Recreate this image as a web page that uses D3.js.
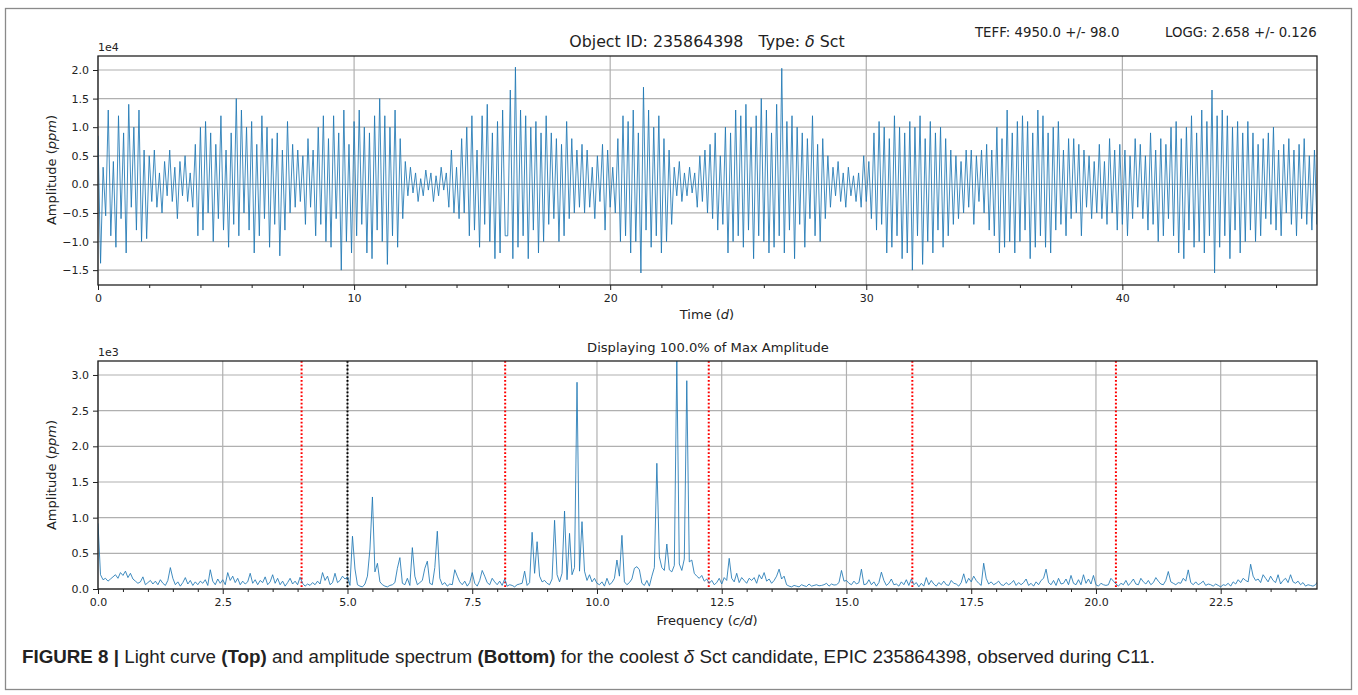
<!DOCTYPE html>
<html><head><meta charset="utf-8">
<script src="https://cdn.jsdelivr.net/npm/d3@7"></script>
<style>
html,body{margin:0;padding:0;background:#fff;}
svg{display:block;}
text{font-family:"DejaVu Sans",sans-serif;fill:#222;}
</style></head>
<body>
<svg id="fig" width="1358" height="695"></svg>
<script>
// ---------- DATA ----------
const titleText = "Object ID: 235864398   Type: ";
const teffText = "TEFF: 4950.0 +/- 98.0";
const loggText = "LOGG: 2.658 +/- 0.126";
const spectrumTitle = "Displaying 100.0% of Max Amplitude";

// Light curve: amplitude in units of 1e3 ppm, sampled every 0.1 d starting at 0 d
const lcStep = 0.1;
const lcFlux = [
 8.5,-13.8,3,-5.5,13,-9,4,-11,12,-6,
 9,-12,14,-4,10,-8,13,-10,6,-9.5,
 5,-3,6,-4,2,-5,4,-2,6,-3,
 3,-6,4,-2,5,-3,2,-4,7,-9,
 10,-8,11,-5,9,-10,7,-6,12,-8,
 6,-11,9,-7,15,-9,13,-5,10,-8,
 11,-12,7,-9,12,-6,10,-11,8,-7,
 9,-12.5,6,-8,11,-5,7,-4,6,-3,
 5,-7,8,-4,6,-9,10,-7,12,-10,
 8,-11,12,-6,9,-15,13,-10,7,-12,
 11,-9,13,-7,10,-12,9,-13,12,-8,
 15,-10,12,-14,10,-9,13,-11,8,-6,
 4,-2,3,-1.5,2,-3,1,-2,2.5,-1,
 2,-3,1.5,-2,3,-1,2,-4,6,-5,
 3,-6,8,-5,10,-9,12,-8,6,-11,
 12,-7,14,-10,9,-13,11,-12,13,-9,
 -9,16.5,-13,20.5,-11,13,-9,12,-13,10,
 -8,11,-12,9,-10,12,-7,9,-6,8,
 -10,7,-9,11,-6,8,-5,6,-4,7,
 -5,6,-4,3,-6,5,-3,7,-8,6,
 -4,3,-5,8,-10,12,-9,11,-12,13,
 -10,9,-15.5,17,-8,13,-11,10,-9,12,
 -12,8,-10,6,-7,3,-2,4,-3,2,
 -2,3,-1.5,2,-4,5,-3,6,-5,7,
 -6,9,-8,5,-7,10,-12,9,-10,13,
 -9,12,-11,14,-8,10,-13,12,-9,15,
 -10,13,-12,9,-11,14,-9,20.3,-12,11,
 -8,12,-13,10,-7,9,-11,8,-6,12,
 -9,7,-10,8,-6,5,-4,3,-2,4,
 -3,2,-4,3,-2,1.5,-3,2,-4,5,
 -3,4,-6,9,-8,11,-7,10,-12,8,
 -11,12,-9,10,-13,9,-12,11,-15,10,
 -9,12,-14,8,-10,11,-12,9,-8,10,
 -11,8,-9,6,-7,5,-6,4,-5,6,
 -4,6,-7,5,-3,6,-5,7,-8,6,
 -9,10,-12,8,-11,13,-10,9,-12,11,
 -10,12,-8,11,-13,9,-11,13,-9,12,
 -11,9,-12,10,-8,11,-7,6,-9,8,
 -6,8,-5,7,-9,6,-4,5,-6,4,
 -5,7,-6,4,-7,8,-5,6,-8,7,
 -7,6,-9,5,-6,8,-4,7,-6,5,
 -8,9,-7,6,-10,8,-9,7,-6,10,
 -9,11,-12,8,-13,10,-8,12,-11,9,
 -10,13,-12,11,-9,16.5,-15.5,12,-11,13,
 -9,12,-13,10,-8,11,-12,9,-10,11,
 -8,9,-10,7,-9,8,-6,9,-7,10,
 -8,6,-9,7,-5,8,-7,6,-9,7,
 -6,8,-7,5,-8,6,-7,8,-6,5
];

// Amplitude spectrum: ppm, sampled every 0.05 c/d starting at 0 c/d
const spStep = 0.05;
const spAmp = [
 920,200,130,150,110,140,170,200,150,230,
 190,250,160,220,140,110,80,100,170,60,
 90,120,70,110,60,130,80,50,120,300,
 150,60,100,40,90,160,70,120,50,100,
 60,110,80,130,50,270,110,60,140,80,
 130,60,230,120,180,90,150,60,110,70,
 100,220,80,130,60,120,90,170,60,100,
 200,80,150,60,110,40,90,150,70,110,
 60,165,80,40,70,50,90,60,110,70,
 230,120,180,60,90,220,90,120,180,140,
 170,50,740,280,60,40,30,70,180,560,
 1290,240,360,100,60,40,30,50,60,90,
 290,440,80,60,150,50,580,180,60,90,
 120,290,390,80,60,300,810,150,60,90,
 40,70,60,270,180,100,60,110,40,90,
 230,80,40,120,260,180,90,60,150,100,
 60,110,50,140,40,60,50,30,60,70,
 80,250,50,90,795,220,663,180,100,120,
 80,60,140,963,200,100,220,1093,130,780,
 200,300,2898,250,944,250,120,200,100,150,
 80,60,100,40,150,60,90,150,406,180,
 752,100,60,90,140,290,313,270,80,50,
 120,40,180,300,1762,450,300,260,630,270,
 240,330,3196,350,260,420,2920,380,406,220,
 180,150,190,110,140,80,120,60,90,150,
 70,160,120,430,150,100,220,90,160,120,
 80,150,120,160,80,200,140,230,110,140,
 80,120,180,278,140,180,60,40,30,50,
 40,30,60,45,35,70,40,50,60,45,
 50,60,80,40,70,55,60,90,260,110,
 120,80,60,110,70,90,278,60,70,130,
 60,100,40,90,236,120,50,80,140,60,
 70,40,100,60,130,50,140,60,90,30,
 80,40,160,60,120,70,40,90,60,110,
 60,50,120,80,70,40,90,213,80,150,
 100,180,120,80,50,361,150,70,100,60,
 80,110,60,50,90,60,80,120,50,90,
 60,90,140,50,80,40,100,60,120,150,
 278,90,60,120,50,150,70,80,140,60,
 190,80,60,130,60,200,80,140,70,190,
 60,40,80,60,50,60,150,110,70,40,
 80,60,120,50,90,140,70,60,150,100,
 70,120,60,90,160,110,70,60,120,245,
 100,80,60,90,80,150,110,268,90,60,
 100,60,80,110,50,70,60,40,70,50,
 30,60,50,80,40,100,70,130,90,150,
 120,100,347,180,120,140,90,200,150,100,
 180,120,90,200,70,120,150,90,200,100,
 80,110,60,90,40,60,50,40,60,110
];

const redLines = [4.08, 8.16, 12.24, 16.32, 20.40];
const blackLines = [5.0];

const lcXTicks = [0, 10, 20, 30, 40];
const lcYTicks = [-1.5, -1.0, -0.5, 0.0, 0.5, 1.0, 1.5, 2.0];
const spXTicks = [0, 2.5, 5, 7.5, 10, 12.5, 15, 17.5, 20, 22.5];
const spYTicks = [0, 0.5, 1.0, 1.5, 2.0, 2.5, 3.0];

// ---------- DRAW ----------
const svg = d3.select("#fig");
const blue = "#1f77b4";
const gridCol = "#b0b0b0";
const fmt = d3.format(".1f");
const L = 98, R = 1317;

svg.append("rect").attr("x",5.5).attr("y",8.5).attr("width",1346).attr("height",681)
  .attr("fill","none").attr("stroke","#8a8a8a").attr("stroke-width",1.3);

function panel(opts){
  const y0 = opts.y0, y1 = opts.y1;
  const x = d3.scaleLinear().domain(opts.xDom).range([L, R]);
  const y = d3.scaleLinear().domain(opts.yDom).range([y1, y0]);
  const g = svg.append("g");
  svg.append("clipPath").attr("id", opts.id).append("rect")
    .attr("x", L).attr("y", y0).attr("width", R-L).attr("height", y1-y0);
  g.append("g").selectAll("line").data(opts.xTicks).join("line")
    .attr("x1", d=>x(d)).attr("x2", d=>x(d)).attr("y1", y0).attr("y2", y1)
    .attr("stroke", gridCol).attr("stroke-width",1.2);
  g.append("g").selectAll("line").data(opts.yTicks).join("line")
    .attr("y1", d=>y(d)).attr("y2", d=>y(d)).attr("x1", L).attr("x2", R)
    .attr("stroke", gridCol).attr("stroke-width",1.2);
  const xa = d3.axisBottom(x).tickValues(opts.xTicks).tickSize(5).tickPadding(4).tickFormat(opts.xFmt);
  const xm = d3.axisBottom(x).tickValues(opts.xMinor).tickSize(3).tickFormat("");
  const ya = d3.axisLeft(y).tickValues(opts.yTicks).tickSize(5).tickPadding(4).tickFormat(fmt);
  const gx = g.append("g").attr("transform",`translate(0,${y1})`).call(xa);
  const gm = g.append("g").attr("transform",`translate(0,${y1})`).call(xm);
  const gy = g.append("g").attr("transform",`translate(${L},0)`).call(ya);
  [gx, gm, gy].forEach(a=>{
    a.select(".domain").remove();
    a.selectAll("text").attr("font-size", 11).attr("fill","#222").attr("font-family","DejaVu Sans");
  });
  g.selectAll(".tick line").attr("stroke","#222").attr("stroke-width",1);
  return {x, y, g, clip: `url(#${opts.id})`, frame: ()=>svg.append("rect").attr("x",L).attr("y",y0)
    .attr("width",R-L).attr("height",y1-y0).attr("fill","none").attr("stroke","#222").attr("stroke-width",1.3)};
}

// ---- Top panel: light curve ----
const pTop = panel({
  id:"c1", y0:56, y1:285, xDom:[0,47.6], yDom:[-1.76,2.245],
  xTicks: lcXTicks, xMinor: d3.range(0, 48, 2).filter(v=>v%10!==0),
  yTicks: lcYTicks, xFmt: d3.format("d")
});
const lcData = lcFlux.map((v,i)=>({t:i*lcStep, f:v/10}));
pTop.g.append("path").datum(lcData).attr("clip-path", pTop.clip)
  .attr("fill","none").attr("stroke",blue).attr("stroke-width",0.85).attr("stroke-linejoin","round")
  .attr("d", d3.line().x(d=>pTop.x(d.t)).y(d=>pTop.y(d.f)));
pTop.frame();

// ---- Bottom panel: amplitude spectrum ----
const pBot = panel({
  id:"c2", y0:361, y1:589, xDom:[0,24.43], yDom:[0,3.196],
  xTicks: spXTicks, xMinor: d3.range(0, 24.5, 0.5).filter(v=>Math.abs(v/2.5-Math.round(v/2.5))>1e-6),
  yTicks: spYTicks, xFmt: fmt
});
pBot.g.selectAll(".redl").data(redLines).join("line")
  .attr("x1", d=>pBot.x(d)).attr("x2", d=>pBot.x(d)).attr("y1",361).attr("y2",589)
  .attr("stroke","#ff0000").attr("stroke-width",2).attr("stroke-dasharray","1.8,2");
pBot.g.selectAll(".blkl").data(blackLines).join("line")
  .attr("x1", d=>pBot.x(d)).attr("x2", d=>pBot.x(d)).attr("y1",361).attr("y2",589)
  .attr("stroke","#000").attr("stroke-width",2).attr("stroke-dasharray","1.8,2");
const spData = spAmp.map((v,i)=>({f:i*spStep, a:v/1000}));
pBot.g.append("path").datum(spData).attr("clip-path", pBot.clip)
  .attr("fill","none").attr("stroke",blue).attr("stroke-width",0.85).attr("stroke-linejoin","round")
  .attr("d", d3.line().x(d=>pBot.x(d.f)).y(d=>pBot.y(d.a)));
pBot.frame();

// ---- Texts ----
const t1 = svg.append("text").attr("x",707).attr("y",47).attr("text-anchor","middle")
  .attr("font-size",15.8).style("white-space","pre");
t1.append("tspan").text(titleText);
t1.append("tspan").attr("font-style","italic").text("δ");
t1.append("tspan").text(" Sct");
svg.append("text").attr("x",975).attr("y",37).attr("font-size",13.3).text(teffText);
svg.append("text").attr("x",1165).attr("y",37).attr("font-size",13.3).text(loggText);
svg.append("text").attr("x",98).attr("y",51).attr("font-size",11).text("1e4");
svg.append("text").attr("x",98).attr("y",356).attr("font-size",11).text("1e3");
svg.append("text").attr("x",708).attr("y",352).attr("text-anchor","middle").attr("font-size",13.1).text(spectrumTitle);

function axLabel(x, y, pre, it, post, rot){
  const t = svg.append("text").attr("text-anchor","middle").attr("font-size",13)
    .attr("transform", rot ? `translate(${x},${y}) rotate(-90)` : `translate(${x},${y})`);
  t.append("tspan").text(pre);
  t.append("tspan").attr("font-style","italic").text(it);
  t.append("tspan").text(post);
}
axLabel(707, 319, "Time (", "d", ")", false);
axLabel(707, 625, "Frequency (", "c/d", ")", false);
axLabel(56, 170, "Amplitude (", "ppm", ")", true);
axLabel(56, 475, "Amplitude (", "ppm", ")", true);

// Caption
const cap = svg.append("text").attr("x",22).attr("y",663).attr("font-size",17.5)
  .attr("textLength",1133).attr("lengthAdjust","spacingAndGlyphs")
  .style("font-family","'Liberation Sans Narrow','Liberation Sans',Arial,sans-serif");
const parts = [["FIGURE 8",1,0],[" | ",1,0],["Light curve ",0,0],["(Top)",1,0],[" and amplitude spectrum ",0,0],
  ["(Bottom)",1,0],[" for the coolest ",0,0],["δ",0,1],[" Sct candidate, EPIC 235864398, observed during C11.",0,0]];
parts.forEach(([s,b,i])=>{
  const ts = cap.append("tspan").text(s);
  if(b) ts.attr("font-weight","bold");
  if(i) ts.attr("font-style","italic");
});
</script>
</body></html>
